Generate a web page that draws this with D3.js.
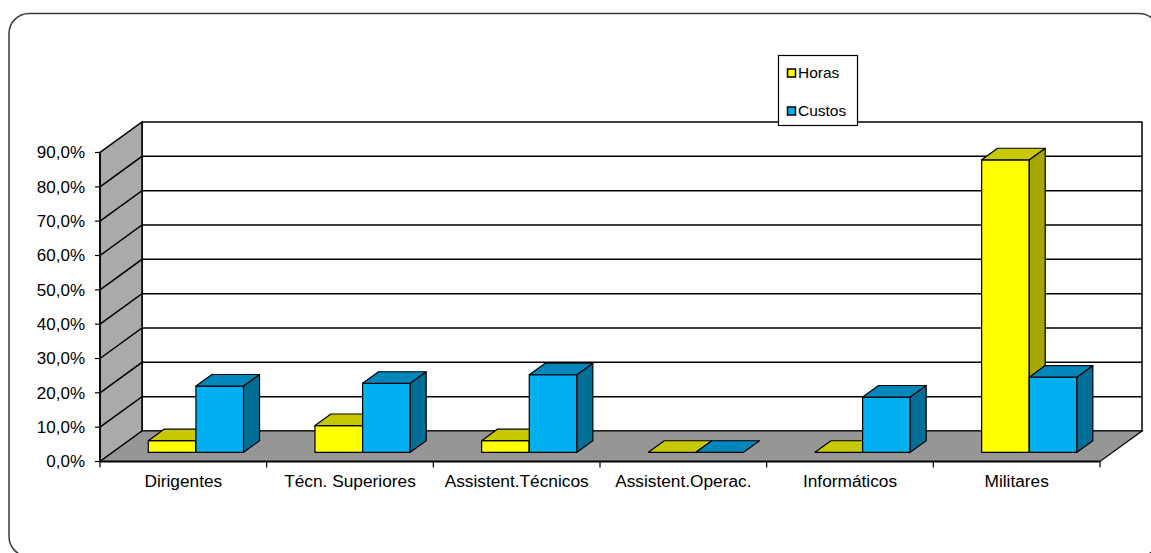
<!DOCTYPE html>
<html>
<head>
<meta charset="utf-8">
<script src="https://cdn.jsdelivr.net/npm/d3@7/dist/d3.min.js"></script>
<style>
  html, body { margin: 0; padding: 0; background: #fff; }
  svg { display: block; font-family: "Liberation Sans", Arial, sans-serif; }
</style>
</head>
<body>
<svg id="chart" width="1151" height="553"></svg>
<script>
// Share of hours and costs by staff group
const categories = ["Dirigentes", "Técn. Superiores", "Assistent.Técnicos", "Assistent.Operac.", "Informáticos", "Militares"];
const seriesNames = ["Horas", "Custos"];
const horas = [3.4, 7.8, 3.4, 0, 0, 85.2];
const custos = [19.3, 20.1, 22.6, 0, 16.1, 21.9];
const yTicks = [0, 10, 20, 30, 40, 50, 60, 70, 80, 90];

const colors = {
  Horas:  { front: "#ffff00", top: "#c8c800", side: "#a6a600" },
  Custos: { front: "#00b0f0", top: "#0086bb", side: "#006f96" }
};

const svg = d3.select("#chart");

// outer rounded frame
svg.append("rect")
  .attr("x", 9).attr("y", 13.5).attr("width", 1150).attr("height", 543)
  .attr("rx", 20).attr("ry", 20)
  .attr("fill", "#fff").attr("stroke", "#3a3a3a").attr("stroke-width", 1.5);

// scales
const x = d3.scaleBand().domain(categories).range([100, 1100]).paddingInner(0).paddingOuter(0);
const xSub = d3.scaleBand().domain(seriesNames).range([0, x.bandwidth()]).paddingInner(0).paddingOuter(0.75);
const y = d3.scaleLinear().domain([0, 90]).range([461.5, 152.5]);

// oblique depth projection
const DX = 42, DY = -30.5;
const P = (px, v, t) => [px + t * DX, y(v) + t * DY];
const poly = pts => pts.map(p => p.join(",")).join(" ");

const yMax = d3.max(yTicks), x0 = x.range()[0], x1 = x.range()[1];

// back wall
svg.append("polygon")
  .attr("points", poly([P(x0, 0, 1), P(x1, 0, 1), P(x1, yMax, 1), P(x0, yMax, 1)]))
  .attr("fill", "#fff").attr("stroke", "#000").attr("stroke-width", 1.5);

// side wall
svg.append("polygon")
  .attr("points", poly([P(x0, 0, 0), P(x0, 0, 1), P(x0, yMax, 1), P(x0, yMax, 0)]))
  .attr("fill", "#aaaaaa").attr("stroke", "#000").attr("stroke-width", 1.5);

// floor
svg.append("polygon")
  .attr("points", poly([P(x0, 0, 0), P(x1, 0, 0), P(x1, 0, 1), P(x0, 0, 1)]))
  .attr("fill", "#969696").attr("stroke", "#000").attr("stroke-width", 1.2);

// gridlines on walls
const grid = svg.append("g").attr("stroke", "#000").attr("stroke-width", 1.5).attr("fill", "none");
yTicks.filter(v => v > 0 && v < yMax).forEach(v => {
  grid.append("polyline").attr("points", poly([P(x0, v, 0), P(x0, v, 1), P(x1, v, 1)]));
});

// value axis
const yAxis = svg.append("g");
yAxis.append("line")
  .attr("x1", x0).attr("x2", x0).attr("y1", y(0)).attr("y2", y(yMax))
  .attr("stroke", "#000").attr("stroke-width", 1.5);
const fmt = v => d3.format(".1f")(v).replace(".", ",") + "%";
yTicks.forEach(v => {
  yAxis.append("line").attr("x1", x0 - 5).attr("x2", x0).attr("y1", y(v)).attr("y2", y(v))
    .attr("stroke", "#000").attr("stroke-width", 1.2);
  yAxis.append("text").attr("x", 85).attr("y", y(v)).attr("dy", "0.35em")
    .attr("text-anchor", "end").attr("font-size", 17).attr("fill", "#000").text(fmt(v));
});

// bars, drawn left to right so each side face is covered by the next bar
const tF = 0.3, tB = 0.68;
const values = { Horas: horas, Custos: custos };
const bars = svg.append("g").attr("stroke", "#000").attr("stroke-width", 1.2).attr("stroke-linejoin", "round");
categories.forEach((c, i) => {
  seriesNames.forEach(s => {
    const v = values[s][i];
    const L = x(c) + xSub(s), R = L + xSub.bandwidth();
    const col = colors[s];
    if (v > 0) {
      bars.append("polygon").attr("fill", col.front)
        .attr("points", poly([P(L, 0, tF), P(R, 0, tF), P(R, v, tF), P(L, v, tF)]));
      bars.append("polygon").attr("fill", col.side)
        .attr("points", poly([P(R, 0, tF), P(R, 0, tB), P(R, v, tB), P(R, v, tF)]));
    }
    bars.append("polygon").attr("fill", col.top)
      .attr("points", poly([P(L, v, tF), P(R, v, tF), P(R, v, tB), P(L, v, tB)]));
  });
});

// category axis
const xAxis = svg.append("g");
xAxis.append("line").attr("x1", x0).attr("x2", x1).attr("y1", y(0)).attr("y2", y(0))
  .attr("stroke", "#000").attr("stroke-width", 2);
categories.concat([null]).forEach(c => {
  const px = c === null ? x1 : x(c);
  xAxis.append("line").attr("x1", px).attr("x2", px).attr("y1", y(0)).attr("y2", y(0) + 6)
    .attr("stroke", "#000").attr("stroke-width", 1.2);
});
categories.forEach(c => {
  xAxis.append("text").attr("x", x(c) + x.bandwidth() / 2).attr("y", 487)
    .attr("text-anchor", "middle").attr("font-size", 17.3).attr("fill", "#000").text(c);
});

// legend
const lg = svg.append("g");
lg.append("rect").attr("x", 778.5).attr("y", 55.5).attr("width", 79).attr("height", 70)
  .attr("fill", "#fff").attr("stroke", "#000").attr("stroke-width", 1.2);
seriesNames.forEach((s, i) => {
  const cy = 73 + i * 38;
  lg.append("rect").attr("x", 787.5).attr("y", cy - 4).attr("width", 8).attr("height", 8)
    .attr("fill", colors[s].front).attr("stroke", "#000").attr("stroke-width", 1.5);
  lg.append("text").attr("x", 798).attr("y", cy).attr("dy", "0.35em")
    .attr("font-size", 15.5).attr("fill", "#000").text(s);
});
</script>
</body>
</html>
